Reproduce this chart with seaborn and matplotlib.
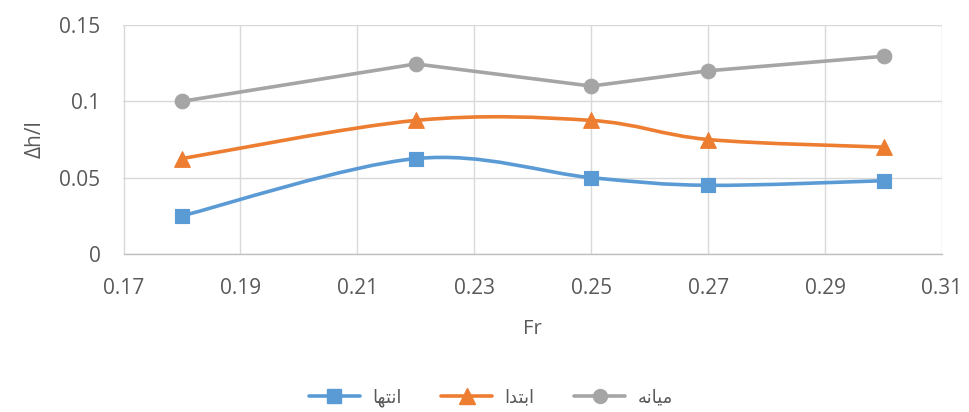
import numpy as np
import pandas as pd
import seaborn as sns
import matplotlib
matplotlib.use("Agg")
import matplotlib.pyplot as plt
from matplotlib.path import Path
from matplotlib.patches import PathPatch
from matplotlib.lines import Line2D
from matplotlib.ticker import FuncFormatter

# ---- data ----
fr = [0.18, 0.22, 0.25, 0.27, 0.30]
enteha = [0.025, 0.0625, 0.05, 0.045, 0.048]     # انتها
ebteda = [0.0625, 0.0875, 0.0875, 0.075, 0.07]   # ابتدا
miyaneh = [0.10, 0.1245, 0.11, 0.12, 0.1295]     # میانه

x_ticks = [0.17, 0.19, 0.21, 0.23, 0.25, 0.27, 0.29, 0.31]
y_ticks = [0, 0.05, 0.1, 0.15]

# Persian labels written in visual (shaped, left-to-right) presentation forms
lbl_enteha = "\uFE8E\uFEEC\uFE98\uFEE7\uFE8D"    # انتها
lbl_ebteda = "\uFE8D\uFEAA\uFE98\uFE91\uFE8D"    # ابتدا
lbl_miyaneh = "\uFEEA\uFEE7\uFE8E\uFBFF\uFEE3"   # میانه

BLUE = "#5B9BD5"
ORANGE = "#ED7D31"
GRAY = "#A5A5A5"
TXT = "#595959"

sns.set_theme(style="white")
plt.rcParams["font.family"] = ["Open Sans", "DejaVu Sans"]

fig = plt.figure(figsize=(9.7, 4.12), dpi=100)
ax = fig.add_axes([123.5 / 970, 1 - 254 / 412, (942 - 123.5) / 970, (254 - 25) / 412])


def smooth_path(xs, ys):
    pts = np.column_stack([xs, ys]).astype(float)
    n = len(pts)
    verts = [pts[0]]
    codes = [Path.MOVETO]
    for i in range(n - 1):
        p0 = pts[i - 1] if i > 0 else pts[i]
        p1 = pts[i]
        p2 = pts[i + 1]
        p3 = pts[i + 2] if i + 2 < n else pts[i + 1]
        c1 = p1 + (p2 - p0) / 6.0
        c2 = p2 - (p3 - p1) / 6.0
        verts += [c1, c2, p2]
        codes += [Path.CURVE4] * 3
    return Path(verts, codes)


lw = 2.6
# smoothed series
for ys, col in [(enteha, BLUE), (ebteda, ORANGE)]:
    ax.add_patch(PathPatch(smooth_path(fr, ys), fill=False, edgecolor=col,
                           lw=lw, transform=ax.transData, zorder=3,
                           capstyle="round", joinstyle="round"))

df_gray = pd.DataFrame({"Fr": fr, "v": miyaneh})
sns.lineplot(data=df_gray, x="Fr", y="v", color=GRAY, lw=lw, ax=ax, zorder=3)

sns.scatterplot(x=fr, y=enteha, marker="s", s=105, color=BLUE, edgecolor=BLUE, ax=ax, zorder=4)
sns.scatterplot(x=fr, y=ebteda, marker="^", s=125, color=ORANGE, edgecolor=ORANGE, ax=ax, zorder=4)
sns.scatterplot(x=fr, y=miyaneh, marker="o", s=110, color=GRAY, edgecolor=GRAY, ax=ax, zorder=4)

ax.set_xlim(0.17, 0.31)
ax.set_ylim(0, 0.15)
ax.set_xticks(x_ticks)
ax.set_yticks(y_ticks)
fmt = FuncFormatter(lambda v, p: f"{round(v, 4):g}")
ax.xaxis.set_major_formatter(fmt)
ax.yaxis.set_major_formatter(fmt)

ax.grid(True, color="#D9D9D9", lw=1)
ax.set_axisbelow(True)
for s in ["top", "right", "left"]:
    ax.spines[s].set_visible(False)
ax.spines["bottom"].set_color("#BFBFBF")
ax.spines["bottom"].set_linewidth(1)
ax.tick_params(axis="both", length=0, labelsize=15, labelcolor=TXT)
ax.tick_params(axis="x", pad=17)
ax.tick_params(axis="y", pad=16.5)

ax.set_xlabel("Fr", fontsize=14.5, color=TXT, labelpad=15)
ax.set_ylabel("\u0394h/l", fontsize=15, color=TXT, labelpad=10)

handles = [
    Line2D([], [], color=BLUE, lw=lw, marker="s", markersize=10),
    Line2D([], [], color=ORANGE, lw=lw, marker="^", markersize=11),
    Line2D([], [], color=GRAY, lw=lw, marker="o", markersize=10),
]
leg = fig.legend(handles, [lbl_enteha, lbl_ebteda, lbl_miyaneh], loc="center",
                 bbox_to_anchor=(491 / 970, 1 - 398 / 412), ncol=3, frameon=False,
                 handlelength=2.8, columnspacing=2.2, handletextpad=0.7,
                 prop={"family": ["DejaVu Sans"], "size": 13})
for t in leg.get_texts():
    t.set_color(TXT)

fig.savefig("out.png", dpi=100)
